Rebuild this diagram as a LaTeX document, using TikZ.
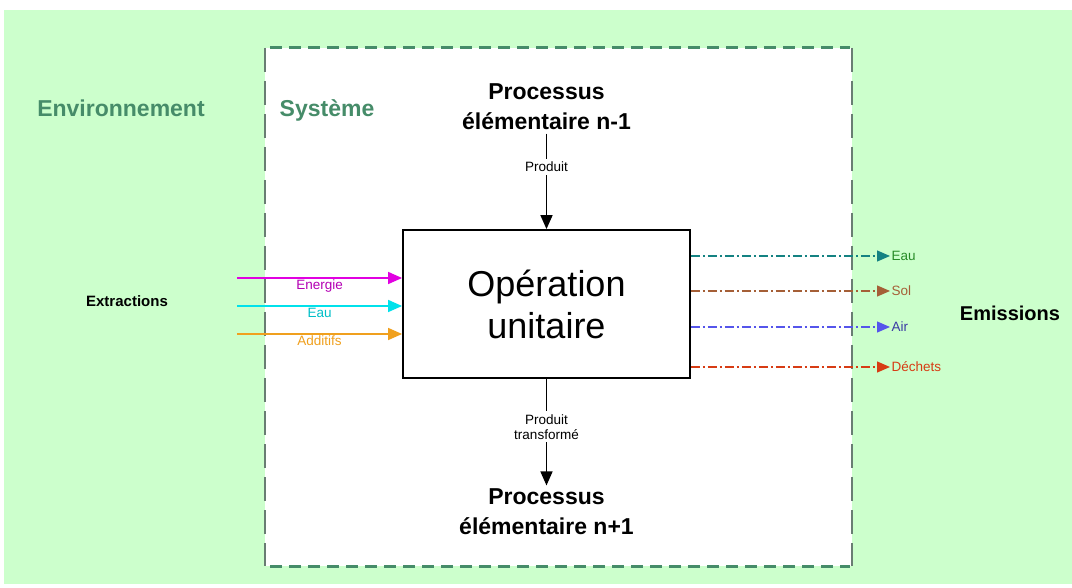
\documentclass[tikz,border=0pt]{standalone}
\usepackage{fontspec}
\setmainfont{Liberation Sans}
\usetikzlibrary{arrows.meta}

\begin{document}
\begin{tikzpicture}[x=1pt,y=-1pt]
    \definecolor{envgreen}{RGB}{204,255,204}
    \definecolor{sysgreen}{RGB}{70,140,105}
    \definecolor{sysgray}{RGB}{105,125,115}
    \definecolor{energiemagenta}{RGB}{225,0,225}
    \definecolor{eaucyan}{RGB}{0,225,235}
    \definecolor{additiforange}{RGB}{240,160,30}
    \definecolor{eauteal}{RGB}{20,130,130}
    \definecolor{eautext}{RGB}{40,140,40}
    \definecolor{solbrown}{RGB}{165,95,55}
    \definecolor{airblue}{RGB}{85,85,235}
    \definecolor{dechetred}{RGB}{215,60,20}

    \tikzset{
        flux/.style={line width=1.5pt, -{Triangle[length=14pt,width=12pt]}},
        rejet/.style={line width=1.2pt, dash pattern=on 9pt off 3pt on 2pt off 3pt, -{Triangle[length=13pt,width=11pt]}},
        petit/.style={font=\fontsize{13.5}{15}\selectfont, inner sep=1pt},
        titre/.style={font=\fontsize{23}{30}\selectfont\bfseries, align=center}
    }

    \useasboundingbox (0,0) rectangle (1072,588);

    % environnement et systeme
    \fill[envgreen] (4,10) rectangle (1072,584);
    \fill[white] (265,48) rectangle (852,566);
    \draw[sysgray, line width=1.5pt, dash pattern=on 24pt off 9pt] (265,48) -- (265,566);
    \draw[sysgray, line width=1.5pt, dash pattern=on 24pt off 9pt] (852,48) -- (852,566);
    \draw[sysgreen, line width=3pt, dash pattern=on 12pt off 7pt] (270,48) -- (850,48);
    \draw[sysgreen, line width=3pt, dash pattern=on 12pt off 7pt] (270,566) -- (850,566);

    \node[sysgreen, font=\fontsize{23}{26}\selectfont\bfseries] (env) at (121,108) {Environnement};
    \node[sysgreen, font=\fontsize{23}{26}\selectfont\bfseries] (sys) at (327,110) {Système};

    % operation unitaire
    \node[draw, line width=1.8pt, minimum width=287pt, minimum height=148pt, align=center,
          font=\fontsize{36}{42}\selectfont] (op) at (546.5,304) {Opération\\unitaire};

    \node[titre] (amont) at (546.5,107) {Processus\\élémentaire n-1};
    \node[titre] (aval) at (546.5,512) {Processus\\élémentaire n+1};

    \draw[flux] (amont.south) -- node[petit, fill=white, inner sep=3pt, pos=0.35] {Produit} (op.north);
    \draw[flux] (op.south) -- node[petit, fill=white, align=center, inner sep=3pt, pos=0.45] {Produit\\transformé} (aval.north);

    % extractions
    \node[font=\fontsize{15}{18}\selectfont\bfseries] (extr) at (127,301) {Extractions};
    \coordinate (e1) at (237,278);
    \coordinate (e2) at (237,306);
    \coordinate (e3) at (237,334);
    \draw[flux, energiemagenta] (e1) -- node[petit, below, text=energiemagenta!80!black] {Energie} (e1 -| op.west);
    \draw[flux, eaucyan] (e2) -- node[petit, below, text=eaucyan!85!black] {Eau} (e2 -| op.west);
    \draw[flux, additiforange] (e3) -- node[petit, below] {Additifs} (e3 -| op.west);

    % emissions
    \node[font=\fontsize{20}{22}\selectfont\bfseries] (emis) at (1010,313) {Emissions};
    \coordinate (s1) at (890,256);
    \coordinate (s2) at (890,291);
    \coordinate (s3) at (890,327);
    \coordinate (s4) at (890,367);
    \draw[rejet, eauteal] (s1 -| op.east) -- (s1) node[petit, right, eautext] {Eau};
    \draw[rejet, solbrown] (s2 -| op.east) -- (s2) node[petit, right] {Sol};
    \draw[rejet, airblue] (s3 -| op.east) -- (s3) node[petit, right, airblue!70!black] {Air};
    \draw[rejet, dechetred] (s4 -| op.east) -- (s4) node[petit, right] {Déchets};
\end{tikzpicture}
\end{document}
